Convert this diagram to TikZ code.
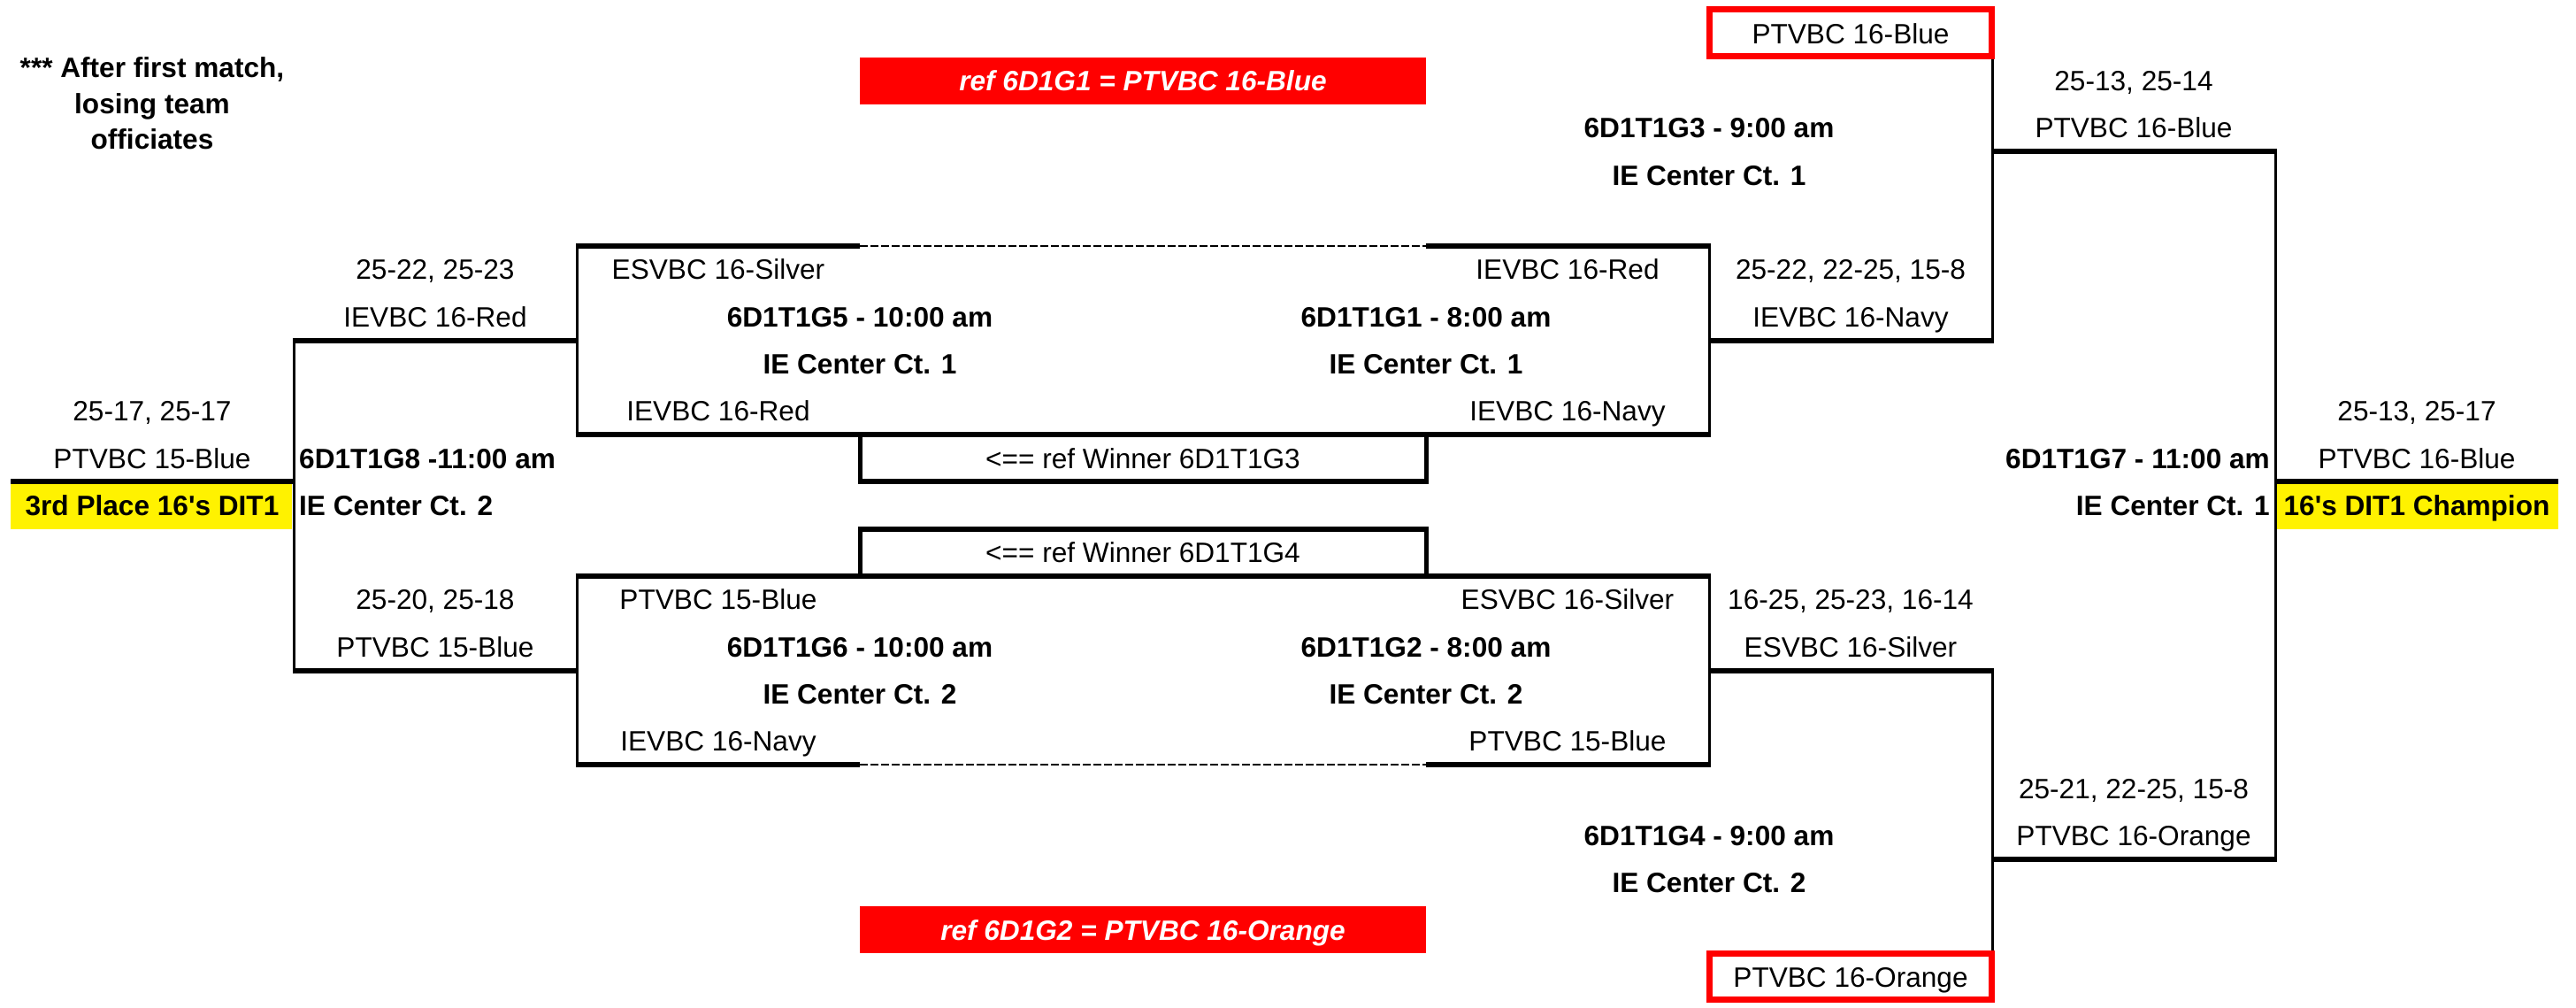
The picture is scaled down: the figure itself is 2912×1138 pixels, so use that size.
\documentclass[tikz,border=0pt]{standalone}
\usepackage{fontspec}
\setmainfont{Liberation Sans}
\begin{document}
\begin{tikzpicture}[x=1pt,y=-1pt,
  txt/.style={anchor=base, inner sep=0pt, font=\fontsize{31.6}{38}\selectfont},
  btxt/.style={anchor=base, inner sep=0pt, font=\bfseries\fontsize{31.6}{38}\selectfont},
  ltxt/.style={btxt, anchor=base west},
  rtxt/.style={btxt, anchor=base east},
  bantxt/.style={anchor=base, inner sep=0pt, text=white, font=\bfseries\itshape\fontsize{31.6}{38}\selectfont},
  hline/.style={line width=6pt},
  vline/.style={line width=3pt},
  rline/.style={line width=5pt},
  dline/.style={line width=2.5pt, dash pattern=on 9pt off 3pt},
  redbox/.style={draw=red, line width=7pt},
]
\useasboundingbox (0,0) rectangle (2912,1138);

% ---------- fills ----------
\fill[red] (972,64.7) rectangle (1612,118);
\fill[red] (972,1024.1) rectangle (1612,1077.4);
\fill[yellow] (12,547.4) rectangle (330,597.7);
\fill[yellow] (2574,547.4) rectangle (2892,597.7);

% ---------- red boxes ----------
\draw[redbox] (1932.5,10.5) rectangle (2251.5,63.5);
\draw[redbox] (1932.5,1077.4) rectangle (2251.5,1129.5);

% ---------- upper centre box ----------
\draw[hline] (652,277.9) -- (972,277.9);
\draw[dline] (972,277.9) -- (1612,277.9);
\draw[hline] (1612,277.9) -- (1932,277.9);
\draw[hline] (650.5,491.1) -- (1933.5,491.1);
\draw[vline] (652,275) -- (652,491.1);
\draw[vline] (1932,275) -- (1932,491.1);

% ref winner G3 box
\draw[rline] (972,491.1) -- (972,544.4);
\draw[rline] (1612,491.1) -- (1612,544.4);
\draw[hline] (969.5,544.4) -- (1614.5,544.4);
% ref winner G4 box
\draw[hline] (969.5,597.7) -- (1614.5,597.7);
\draw[rline] (972,597.7) -- (972,651);
\draw[rline] (1612,597.7) -- (1612,651);

% ---------- lower centre box ----------
\draw[hline] (650.5,651) -- (1933.5,651);
\draw[hline] (652,864.2) -- (972,864.2);
\draw[dline] (972,864.2) -- (1612,864.2);
\draw[hline] (1612,864.2) -- (1932,864.2);
\draw[vline] (652,651) -- (652,867);
\draw[vline] (1932,651) -- (1932,867);

% ---------- left bracket ----------
\draw[hline] (332,384.5) -- (652,384.5);
\draw[hline] (332,757.6) -- (652,757.6);
\draw[vline] (332,381.5) -- (332,760.6);
\draw[hline] (12,544.4) -- (332,544.4);

% ---------- right brackets ----------
\draw[hline] (1932,384.5) -- (2253.5,384.5);
\draw[vline] (2252,67) -- (2252,387.5);
\draw[hline] (1932,757.6) -- (2253.5,757.6);
\draw[vline] (2252,754.6) -- (2252,1074);
\draw[hline] (2250.5,171.3) -- (2573.5,171.3);
\draw[hline] (2250.5,970.8) -- (2573.5,970.8);
\draw[vline] (2572,168.3) -- (2572,973.8);
\draw[hline] (2572,544.4) -- (2892,544.4);

% ---------- texts ----------
\node[align=center, inner sep=0pt, font=\bfseries\fontsize{31.6}{40.5}\selectfont] (note) at (172,117) {*** After first match,\\losing team\\officiates};

\node[txt] (rb1) at (2092,49.35) {PTVBC 16-Blue};
\node[bantxt] (ban1) at (1292,102.65) {ref 6D1G1 = PTVBC 16-Blue};
\node[txt] (s3) at (2412,102.65) {25-13, 25-14};
\node[btxt] (g3a) at (1932,155.95) {6D1T1G3 - 9:00 am};
\node[txt] (w3) at (2412,155.95) {PTVBC 16-Blue};
\node[btxt] (g3b) at (1932,209.25) {IE Center Ct. 1};

\node[txt] (s5) at (492,315.85) {25-22, 25-23};
\node[txt] (t5a) at (812,315.85) {ESVBC 16-Silver};
\node[txt] (t1a) at (1772,315.85) {IEVBC 16-Red};
\node[txt] (s1) at (2092,315.85) {25-22, 22-25, 15-8};

\node[txt] (w5) at (492,369.15) {IEVBC 16-Red};
\node[btxt] (g5a) at (972,369.15) {6D1T1G5 - 10:00 am};
\node[btxt] (g1a) at (1612,369.15) {6D1T1G1 - 8:00 am};
\node[txt] (w1) at (2092,369.15) {IEVBC 16-Navy};

\node[btxt] (g5b) at (972,422.45) {IE Center Ct. 1};
\node[btxt] (g1b) at (1612,422.45) {IE Center Ct. 1};

\node[txt] (t5b) at (812,475.75) {IEVBC 16-Red};
\node[txt] (t1b) at (1772,475.75) {IEVBC 16-Navy};
\node[txt] (s8) at (172,475.75) {25-17, 25-17};
\node[txt] (s7) at (2732,475.75) {25-13, 25-17};

\node[txt] (w8) at (172,529.05) {PTVBC 15-Blue};
\node[ltxt] (g8a) at (338,529.05) {6D1T1G8 -11:00 am};
\node[txt] (ref3) at (1292,529.05) {<== ref Winner 6D1T1G3};
\node[rtxt] (g7a) at (2566,529.05) {6D1T1G7 - 11:00 am};
\node[txt] (w7) at (2732,529.05) {PTVBC 16-Blue};

\node[btxt] (third) at (172,582.35) {3rd Place 16\textquotesingle s DIT1};
\node[ltxt] (g8b) at (338,582.35) {IE Center Ct. 2};
\node[rtxt] (g7b) at (2566,582.35) {IE Center Ct. 1};
\node[btxt] (champ) at (2732,582.35) {16\textquotesingle s DIT1 Champion};

\node[txt] (ref4) at (1292,635.65) {<== ref Winner 6D1T1G4};

\node[txt] (s6) at (492,688.95) {25-20, 25-18};
\node[txt] (t6a) at (812,688.95) {PTVBC 15-Blue};
\node[txt] (t2a) at (1772,688.95) {ESVBC 16-Silver};
\node[txt] (s2) at (2092,688.95) {16-25, 25-23, 16-14};

\node[txt] (w6) at (492,742.25) {PTVBC 15-Blue};
\node[btxt] (g6a) at (972,742.25) {6D1T1G6 - 10:00 am};
\node[btxt] (g2a) at (1612,742.25) {6D1T1G2 - 8:00 am};
\node[txt] (w2) at (2092,742.25) {ESVBC 16-Silver};

\node[btxt] (g6b) at (972,795.55) {IE Center Ct. 2};
\node[btxt] (g2b) at (1612,795.55) {IE Center Ct. 2};

\node[txt] (t6b) at (812,848.85) {IEVBC 16-Navy};
\node[txt] (t2b) at (1772,848.85) {PTVBC 15-Blue};

\node[txt] (s4) at (2412,902.15) {25-21, 22-25, 15-8};
\node[btxt] (g4a) at (1932,955.45) {6D1T1G4 - 9:00 am};
\node[txt] (w4) at (2412,955.45) {PTVBC 16-Orange};
\node[btxt] (g4b) at (1932,1008.75) {IE Center Ct. 2};

\node[bantxt] (ban2) at (1292,1062.05) {ref 6D1G2 = PTVBC 16-Orange};
\node[txt] (rb2) at (2092,1115.35) {PTVBC 16-Orange};
\end{tikzpicture}
\end{document}
